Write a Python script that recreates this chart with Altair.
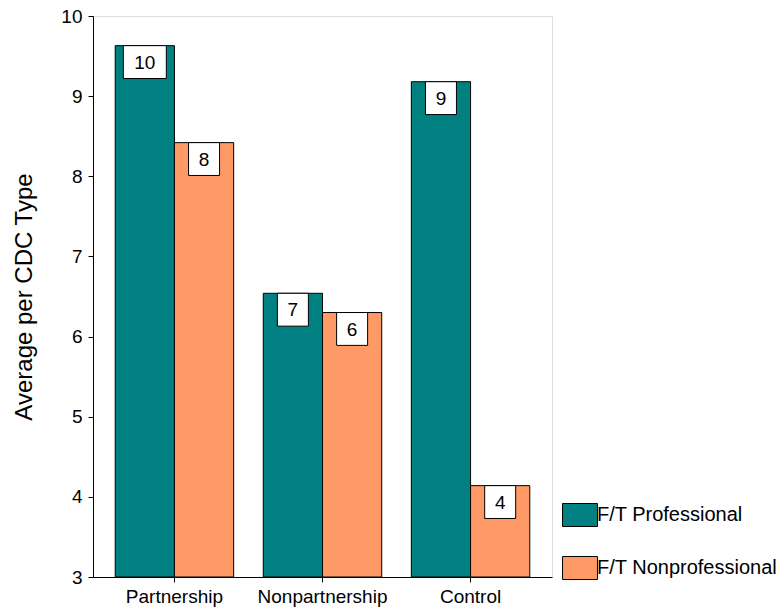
import altair as alt
import pandas as pd

categories = ["Partnership", "Nonpartnership", "Control"]
series = ["F/T Professional", "F/T Nonprofessional"]
professional = [9.63, 6.54, 9.18]
nonprofessional = [8.42, 6.30, 4.14]
colors = ["#008080", "#FF9966"]
y_ticks = [3, 4, 5, 6, 7, 8, 9, 10]

rows = []
for i, c in enumerate(categories):
    rows.append({"cat": c, "series": series[0], "value": professional[i], "base": 3})
    rows.append({"cat": c, "series": series[1], "value": nonprofessional[i], "base": 3})
df = pd.DataFrame(rows)

FONT = "Liberation Sans"

x = alt.X("cat:N", sort=categories,
          scale=alt.Scale(paddingInner=0.2, paddingOuter=0.15),
          axis=alt.Axis(title=None, labelAngle=0, labelFontSize=19, labelPadding=5,
                        labelFont=FONT, tickSize=5, labelColor="black",
                        domainColor="black", tickColor="black"))
xo = alt.XOffset("series:N", sort=series, scale=alt.Scale(paddingInner=0, paddingOuter=0))
y = alt.Y("value:Q", scale=alt.Scale(domain=[3, 10], nice=False, zero=False),
          axis=alt.Axis(title="Average per CDC Type", values=y_ticks, format="d", grid=False,
                        labelFontSize=19, titleFontSize=24, titleFontWeight="normal",
                        labelFont=FONT, titleFont=FONT,
                        titlePadding=24, tickSize=5, labelPadding=6, labelColor="black",
                        titleColor="black", domainColor="black", tickColor="black"))

bars = alt.Chart(df).mark_bar(stroke="black", strokeWidth=1).encode(
    x=x, xOffset=xo, y=y, y2="base:Q",
    color=alt.Color("series:N", sort=series,
                    scale=alt.Scale(domain=series, range=colors),
                    legend=alt.Legend(title=None, orient="none", legendX=475, legendY=487,
                                      symbolType="M-1.52,-1H1.52V1H-1.52Z", symbolSize=529,
                                      symbolStrokeColor="black", symbolStrokeWidth=1,
                                      symbolOpacity=1, labelFontSize=20, labelOffset=5,
                                      labelLimit=0, rowPadding=25, labelColor="black",
                                      labelFont=FONT)),
)

boxes = alt.Chart(df).transform_calculate(
    top="datum.value",
    bottom="datum.value - 0.41",
    nch="length(format(round(datum.value), 'd'))",
).mark_bar(fill="white", stroke="black", strokeWidth=1).encode(
    x=x, xOffset=xo,
    y=alt.Y("top:Q", scale=alt.Scale(domain=[3, 10], nice=False, zero=False)),
    y2="bottom:Q",
    size=alt.Size("nch:Q", scale=alt.Scale(domain=[1, 2], range=[31, 43]), legend=None),
)

texts = alt.Chart(df).transform_calculate(
    label="format(round(datum.value), 'd')",
).mark_text(fontSize=19, font=FONT, baseline="middle", dy=17, color="black").encode(
    x=x, xOffset=xo,
    y=alt.Y("value:Q", scale=alt.Scale(domain=[3, 10], nice=False, zero=False)),
    text="label:N",
)

chart = alt.layer(bars, boxes, texts).properties(
    width=459, height=561,
    autosize=alt.AutoSizeParams(type="none"),
    padding={"left": 93, "top": 16, "right": 231, "bottom": 33},
).configure_view(stroke="black", strokeWidth=1).configure(font=FONT)

chart.save("out.html", embed_options={"renderer": "svg", "actions": False})
